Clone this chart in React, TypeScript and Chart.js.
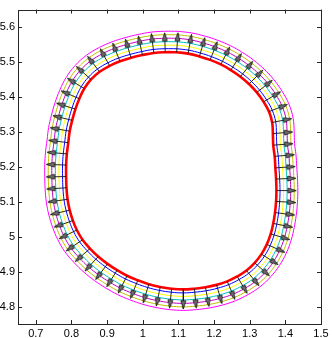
import React, { useEffect, useRef } from 'react';
import { Chart, registerables } from 'chart.js';

Chart.register(...registerables);

// Base (red) contour, clockwise from the top
const curveX = [
  1.095, 1.127, 1.159, 1.189, 1.219, 1.247, 1.274, 1.298, 1.320, 1.339, 1.354, 1.363, 1.365, 1.366, 1.370, 1.372,
  1.374, 1.375, 1.374, 1.371, 1.366, 1.359, 1.348, 1.333, 1.314, 1.291, 1.265, 1.237, 1.207, 1.176, 1.145, 1.114,
  1.081, 1.049, 1.017, 0.986, 0.956, 0.928, 0.901, 0.875, 0.852, 0.831, 0.815, 0.804, 0.795, 0.789, 0.786, 0.785,
  0.785, 0.787, 0.791, 0.795, 0.802, 0.811, 0.822, 0.836, 0.855, 0.879, 0.907, 0.936, 0.967, 0.999, 1.031, 1.063,
];
const curveY = [
  5.528, 5.524, 5.516, 5.506, 5.493, 5.477, 5.458, 5.437, 5.413, 5.386, 5.358, 5.327, 5.295, 5.262, 5.230, 5.197,
  5.165, 5.132, 5.101, 5.069, 5.038, 5.008, 4.978, 4.950, 4.925, 4.903, 4.886, 4.872, 4.862, 4.855, 4.851, 4.849,
  4.851, 4.856, 4.864, 4.875, 4.888, 4.904, 4.922, 4.943, 4.966, 4.991, 5.019, 5.046, 5.076, 5.107, 5.140, 5.172,
  5.205, 5.237, 5.269, 5.302, 5.333, 5.365, 5.395, 5.424, 5.450, 5.472, 5.489, 5.502, 5.512, 5.520, 5.526, 5.528,
];

// Offset level curves
const levelOffsets = [0.01, 0.02, 0.03, 0.04, 0.05, 0.06];
const levelColors = ['#0000ff', '#ffff00', '#00bfbf', '#bf00bf', '#bfbf00', '#ff00ff'];

// Normal arrows
const arrowStart = 0.0;
const arrowEnd = 0.055;
const arrowHeadCenter = 0.0435;

const xTicks = [0.7, 0.8, 0.9, 1.0, 1.1, 1.2, 1.3, 1.4, 1.5];
const xTickLabels = ['0.7', '0.8', '0.9', '1', '1.1', '1.2', '1.3', '1.4', '1.5'];
const yTicks = [4.8, 4.9, 5.0, 5.1, 5.2, 5.3, 5.4, 5.5, 5.6];
const yTickLabels = ['4.8', '4.9', '5', '5.1', '5.2', '5.3', '5.4', '5.5', '5.6'];

const xRange = [0.65, 1.5];
const yRange = [4.75, 5.65];

function makeArrowHead(): HTMLCanvasElement {
  const c = document.createElement('canvas');
  c.width = 7;
  c.height = 9;
  const g = c.getContext('2d')!;
  g.beginPath();
  g.moveTo(3.5, 0.4);
  g.lineTo(6.0, 8.3);
  g.lineTo(1.0, 8.3);
  g.closePath();
  g.fillStyle = '#6e6e6e';
  g.fill();
  g.strokeStyle = '#1e1e1e';
  g.lineWidth = 0.9;
  g.stroke();
  return c;
}

const boxPlugin = {
  id: 'boxTicks',
  afterDatasetsDraw(chart: any) {
    const { ctx, chartArea: a, scales } = chart;
    const xs = scales.x;
    const ys = scales.y;
    ctx.save();
    ctx.strokeStyle = '#262626';
    ctx.lineWidth = 1;
    ctx.strokeRect(Math.round(a.left) + 0.5, Math.round(a.top) + 0.5, Math.round(a.right - a.left), Math.round(a.bottom - a.top));
    const tl = 4;
    ctx.beginPath();
    xTicks.forEach((v) => {
      const px = Math.round(xs.getPixelForValue(v)) + 0.5;
      ctx.moveTo(px, a.bottom);
      ctx.lineTo(px, a.bottom - tl);
      ctx.moveTo(px, a.top);
      ctx.lineTo(px, a.top + tl);
    });
    yTicks.forEach((v) => {
      const py = Math.round(ys.getPixelForValue(v)) + 0.5;
      ctx.moveTo(a.left, py);
      ctx.lineTo(a.left + tl, py);
      ctx.moveTo(a.right, py);
      ctx.lineTo(a.right - tl, py);
    });
    ctx.stroke();
    ctx.restore();
  },
};

export default function App() {
  const ref = useRef<HTMLCanvasElement | null>(null);

  useEffect(() => {
    document.body.style.margin = '0';
    const n = curveX.length;
    const at = (i: number) => ((i % n) + n) % n;
    const normals = curveX.map((_, i) => {
      const tx = curveX[at(i + 1)] - curveX[at(i - 1)] + 0.5 * (curveX[at(i + 2)] - curveX[at(i - 2)]);
      const ty = curveY[at(i + 1)] - curveY[at(i - 1)] + 0.5 * (curveY[at(i + 2)] - curveY[at(i - 2)]);
      const len = Math.hypot(tx, ty) || 1;
      return { nx: -ty / len, ny: tx / len };
    });

    const offsetCurve = (d: number) => {
      const pts = curveX.map((x, i) => ({ x: x + d * normals[i].nx, y: curveY[i] + d * normals[i].ny }));
      pts.push({ ...pts[0] });
      return pts;
    };

    const shafts: any[] = [];
    const heads: any[] = [];
    const rotations: number[] = [];
    curveX.forEach((x, i) => {
      const { nx, ny } = normals[i];
      const y = curveY[i];
      shafts.push({ x: x + arrowStart * nx, y: y + arrowStart * ny });
      shafts.push({ x: x + arrowEnd * nx, y: y + arrowEnd * ny });
      shafts.push({ x: x, y: null });
      heads.push({ x: x + arrowHeadCenter * nx, y: y + arrowHeadCenter * ny });
      rotations.push((Math.atan2(nx, ny) * 180) / Math.PI);
    });

    const head = makeArrowHead();

    const datasets: any[] = [
      {
        label: 'heads',
        data: heads,
        showLine: false,
        pointStyle: head,
        pointRotation: rotations,
        pointRadius: 4,
      },
      {
        label: 'shafts',
        data: shafts,
        borderColor: '#111111',
        borderWidth: 0.9,
        pointRadius: 0,
        spanGaps: false,
        tension: 0,
      },
      {
        label: 'base',
        data: offsetCurve(0),
        borderColor: '#ff0000',
        borderWidth: 2.6,
        pointRadius: 0,
        tension: 0.4,
      },
    ];
    levelOffsets.forEach((d, k) => {
      datasets.push({
        label: 'level' + k,
        data: offsetCurve(d),
        borderColor: levelColors[k],
        borderWidth: 1,
        pointRadius: 0,
        tension: 0.4,
      });
    });

    const font = { family: "'Liberation Sans', Arial, sans-serif", size: 11 };

    const chart = new Chart(ref.current!, {
      type: 'line',
      data: { datasets },
      options: {
        animation: false,
        responsive: false,
        maintainAspectRatio: false,
        layout: { padding: { top: 3, right: 11, left: 0, bottom: 0 } },
        plugins: { legend: { display: false }, tooltip: { enabled: false } },
        scales: {
          x: {
            type: 'linear',
            min: xRange[0],
            max: xRange[1],
            grid: { display: false, drawTicks: false },
            border: { display: false },
            ticks: {
              font,
              color: '#000',
              padding: 3,
              maxRotation: 0,
              autoSkip: false,
              callback: (_v: any, i: number) => xTickLabels[i],
            },
            afterBuildTicks: (s: any) => {
              s.ticks = xTicks.map((v) => ({ value: v }));
            },
            afterFit: (s: any) => {
              s.height = 14;
            },
          },
          y: {
            type: 'linear',
            min: yRange[0],
            max: yRange[1],
            grid: { display: false, drawTicks: false },
            border: { display: false },
            ticks: {
              font,
              color: '#000',
              padding: 3,
              autoSkip: false,
              callback: (_v: any, i: number) => yTickLabels[i],
            },
            afterBuildTicks: (s: any) => {
              s.ticks = yTicks.map((v) => ({ value: v }));
            },
            afterFit: (s: any) => {
              s.width = 18;
            },
          },
        },
      },
      plugins: [boxPlugin],
    } as any);

    return () => chart.destroy();
  }, []);

  return (
    <div style={{ width: 332, height: 338, background: '#fff' }}>
      <canvas ref={ref} width={332} height={338} />
    </div>
  );
}
